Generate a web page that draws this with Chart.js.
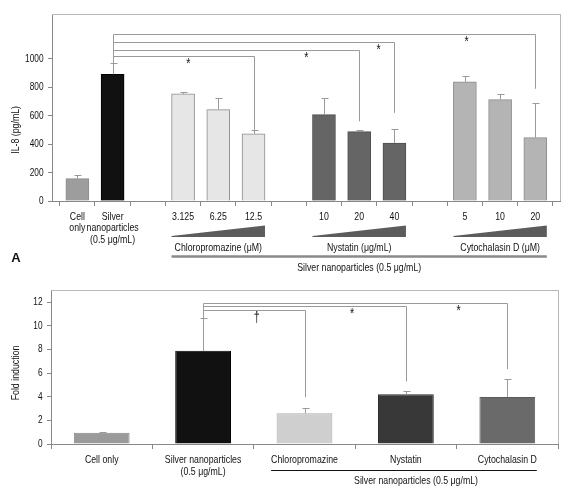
<!DOCTYPE html>
<html>
<head>
<meta charset="utf-8">
<script src="https://cdn.jsdelivr.net/npm/chart.js@4.4.1/dist/chart.umd.min.js"></script>
<style>
  body { margin: 0; background: #fff; }
  #wrap { position: relative; width: 576px; height: 493px; }
  .panel { position: absolute; left: 0; width: 576px; }
  #panelA { top: 0; height: 280px; }
  #panelB { top: 280px; height: 213px; }
</style>
</head>
<body>
<div id="wrap">
  <div class="panel" id="panelA"><canvas id="chartA"></canvas></div>
  <div class="panel" id="panelB"><canvas id="chartB"></canvas></div>
</div>
<script>
// panel A : IL-8 release
const catsA = [['Cell', 'only'], ['Silver', 'nanoparticles', '(0.5 μg/mL)'], '', '3.125', '6.25', '12.5', '', '10', '20', '40', '', '5', '10', '20'];
const il8 = [157, 891, null, 753, 643, 472, null, 607, 488, 408, null, 838, 713, 446];
const il8Err = [28, 80, null, 14, 82, 28, null, 118, 14, 101, null, 44, 40, 243];
const il8Ticks = [0, 200, 400, 600, 800, 1000];
const groupNamesA = ['Chloropromazine (μM)', 'Nystatin (μg/mL)', 'Cytochalasin D (μM)'];
const groupFirstA = [3, 7, 11];
const groupLastA = [5, 9, 13];
const sigToA = [5, 8, 9, 13];
const sigLevelA = [1018, 1065, 1119, 1171];
const sigEndA = [500, 560, 620, 789];
const sigMarkA = ['*', '*', '*', '*'];
const sigMarkAtA = [3.15, 6.5, 8.55, 11.05];

// panel B : fold induction
const catsB = ['Cell only', ['Silver nanoparticles', '(0.5 μg/mL)'], 'Chloropromazine', 'Nystatin', 'Cytochalasin D'];
const fold = [0.95, 7.88, 2.6, 4.2, 3.98];
const foldErr = [0.1, 2.77, 0.42, 0.29, 1.55];
const foldTicks = [0, 2, 4, 6, 8, 10, 12];
const sigToB = [2, 3, 4];
const sigLevelB = [11.33, 11.67, 11.92];
const sigEndB = [3.96, 5.28, 6.33];
const sigMarkB = ['†', '*', '*'];
const sigMarkAtB = [1.53, 2.47, 3.52];

// the original uses a condensed face; Liberation Sans squeezed stands in for it
const FONT = '"Liberation Sans", Arial, sans-serif';
const SQUEEZE = 0.77;
const INK = '#111';
const HIDDEN = 'rgba(0,0,0,0)';
Chart.defaults.font.family = FONT;

function crisp(v) { return Math.round(v) + 0.5; }
function line(ctx, x1, y1, x2, y2) {
  ctx.beginPath(); ctx.moveTo(x1, y1); ctx.lineTo(x2, y2); ctx.stroke();
}
function say(ctx, text, x, y, size, align, rotate) {
  ctx.save();
  ctx.translate(x, y);
  if (rotate) ctx.rotate(-Math.PI / 2);
  ctx.scale(SQUEEZE, 1);
  ctx.font = size + 'px ' + FONT;
  ctx.fillStyle = INK;
  ctx.textAlign = align || 'center';
  ctx.textBaseline = 'middle';
  ctx.fillText(text, 0, 0);
  ctx.restore();
}
function textWidth(ctx, text, size) {
  ctx.save();
  ctx.font = size + 'px ' + FONT;
  const w = ctx.measureText(text).width * SQUEEZE;
  ctx.restore();
  return w;
}

// tick labels are kept in the scales but drawn here, squeezed
function drawTickLabels(chart, firstLine) {
  const { ctx, scales: { x, y }, chartArea: { left, bottom } } = chart;
  x.ticks.forEach(t => {
    const lines = Array.isArray(t.label) ? t.label : [t.label];
    lines.forEach((s, k) => say(ctx, s, x.getPixelForValue(t.value), bottom + firstLine + k * 11.7, 11.4));
  });
  y.ticks.forEach(t => say(ctx, t.label, left - 8.5, y.getPixelForValue(t.value), 10.8, 'right'));
}

function drawErrors(chart, values, errs) {
  const { ctx, scales: { x, y } } = chart;
  ctx.save();
  ctx.strokeStyle = '#9a9a9a';
  ctx.lineWidth = 1;
  values.forEach((v, i) => {
    if (v === null) return;
    const px = crisp(x.getPixelForValue(i));
    const top = crisp(y.getPixelForValue(v + errs[i]));
    line(ctx, px, y.getPixelForValue(v), px, top);
    line(ctx, px - 3, top, px + 4, top);
  });
  ctx.restore();
}

function drawBrackets(chart, values, errs, to, level, end, marks, markAt) {
  const { ctx, scales: { x, y } } = chart;
  ctx.save();
  ctx.strokeStyle = '#9a9a9a';
  ctx.lineWidth = 1;
  const sx = crisp(x.getPixelForValue(1));
  line(ctx, sx, crisp(y.getPixelForValue(Math.max(...level))), sx, y.getPixelForValue(values[1] + errs[1]));
  to.forEach((t, k) => {
    const ly = crisp(y.getPixelForValue(level[k]));
    const tx = crisp(x.getPixelForValue(t));
    ctx.beginPath();
    ctx.moveTo(sx, ly); ctx.lineTo(tx, ly); ctx.lineTo(tx, y.getPixelForValue(end[k]));
    ctx.stroke();
    say(ctx, marks[k], x.getPixelForValue(markAt[k]), ly + 8, 14);
  });
  ctx.restore();
}

function drawFrame(chart) {
  const { ctx, chartArea: { left, right, top, bottom } } = chart;
  ctx.save();
  ctx.strokeStyle = '#b8b8b8';
  ctx.lineWidth = 1;
  line(ctx, left, crisp(top), crisp(right), crisp(top));
  line(ctx, crisp(right), top, crisp(right), bottom);
  ctx.restore();
}

function drawYTitle(chart, text, lo, hi) {
  const y = chart.scales.y;
  say(chart.ctx, text, 16, (y.getPixelForValue(lo) + y.getPixelForValue(hi)) / 2, 11.4, 'center', true);
}

function drawLetter(chart, letter, x, y) {
  const ctx = chart.ctx;
  ctx.save();
  ctx.font = 'bold 13px ' + FONT;
  ctx.fillStyle = '#111';
  ctx.textAlign = 'center';
  ctx.textBaseline = 'middle';
  ctx.fillText(letter, x, y);
  ctx.restore();
}

const annotA = {
  id: 'annotA',
  afterDraw(chart) {
    const { ctx, scales: { x }, chartArea: { bottom } } = chart;
    drawFrame(chart);
    drawErrors(chart, il8, il8Err);
    drawBrackets(chart, il8, il8Err, sigToA, sigLevelA, sigEndA, sigMarkA, sigMarkAtA);
    drawTickLabels(chart, 15.4);
    ctx.save();
    let lineL = Infinity, lineR = -Infinity;
    groupNamesA.forEach((name, g) => {
      const l = x.getPixelForValue(groupFirstA[g]) - 11.5;
      const r = x.getPixelForValue(groupLastA[g]) + 11.5;
      lineL = Math.min(lineL, l); lineR = Math.max(lineR, r);
      ctx.fillStyle = '#5c5c5c';
      ctx.beginPath();
      ctx.moveTo(l, bottom + 36); ctx.lineTo(l, bottom + 35); ctx.lineTo(r, bottom + 24.5); ctx.lineTo(r, bottom + 36);
      ctx.closePath(); ctx.fill();
      say(ctx, name, (l + r) / 2, bottom + 47, 11.4);
    });
    ctx.strokeStyle = '#8a8a8a';
    ctx.lineWidth = 2.5;
    line(ctx, lineL, bottom + 55.5, lineR, bottom + 55.5);
    say(ctx, 'Silver nanoparticles (0.5 μg/mL)', (lineL + lineR) / 2, bottom + 67, 11.4);
    ctx.restore();
    drawYTitle(chart, 'IL-8 (pg/mL)', 0, 1000);
    drawLetter(chart, 'A', 16, 258);
  }
};

const annotB = {
  id: 'annotB',
  afterDraw(chart) {
    const { ctx, scales: { x }, chartArea: { bottom } } = chart;
    drawFrame(chart);
    drawErrors(chart, fold, foldErr);
    drawBrackets(chart, fold, foldErr, sigToB, sigLevelB, sigEndB, sigMarkB, sigMarkAtB);
    drawTickLabels(chart, 16);
    const l = x.getPixelForValue(2) - textWidth(ctx, catsB[2], 11.4) / 2;
    const r = x.getPixelForValue(4) + textWidth(ctx, catsB[4], 11.4) / 2;
    ctx.save();
    ctx.strokeStyle = '#111';
    ctx.lineWidth = 1;
    line(ctx, l, crisp(bottom + 26), r, crisp(bottom + 26));
    ctx.restore();
    say(ctx, 'Silver nanoparticles (0.5 μg/mL)', x.getPixelForValue(3.1), bottom + 37, 11.4);
    drawYTitle(chart, 'Fold induction', 0, 12);
    drawLetter(chart, 'B', 20, 480);
  }
};

function fillA(i) {
  if (i === 0) return '#9d9d9d';
  if (i === 1) return '#111111';
  if (i <= groupLastA[0]) return '#e6e6e6';
  if (i <= groupLastA[1]) return '#656565';
  return '#b4b4b4';
}
function edgeA(i) {
  if (i === 1) return '#000000';
  if (i > groupLastA[0] && i <= groupLastA[1]) return '#4f4f4f';
  return '#8c8c8c';
}
const slotsA = il8.map((v, i) => i).filter(i => il8[i] !== null);

new Chart(document.getElementById('chartA'), {
  type: 'bar',
  data: {
    datasets: [{
      data: slotsA.map(i => ({ x: i, y: il8[i] })),
      backgroundColor: slotsA.map(fillA),
      borderColor: slotsA.map(edgeA),
      borderWidth: 1,
      barThickness: 23
    }]
  },
  options: {
    responsive: true,
    maintainAspectRatio: false,
    animation: false,
    layout: { padding: { top: 14, right: 16, left: 0, bottom: 0 } },
    plugins: { legend: { display: false }, tooltip: { enabled: false } },
    scales: {
      x: {
        type: 'linear', min: -0.72, max: 13.7, offset: false,
        afterBuildTicks: s => { s.ticks = catsA.map((c, i) => ({ value: i })); },
        afterFit: s => { s.height = 79; },
        grid: { drawOnChartArea: false, tickLength: 5, offset: true, color: '#888' },
        border: { color: '#888' },
        ticks: { autoSkip: false, maxRotation: 0, color: HIDDEN, callback: v => catsA[v] }
      },
      y: {
        min: 0, max: 1315,
        afterBuildTicks: s => { s.ticks = il8Ticks.map(v => ({ value: v })); },
        afterFit: s => { s.width = 52; },
        grid: { drawOnChartArea: false, tickLength: 4, color: '#888' },
        border: { color: '#888' },
        ticks: { color: HIDDEN, callback: v => String(v) }
      }
    }
  },
  plugins: [annotA]
});

new Chart(document.getElementById('chartB'), {
  type: 'bar',
  data: {
    labels: catsB,
    datasets: [{
      data: fold,
      backgroundColor: ['#9a9a9a', '#111111', '#cfcfcf', '#383838', '#6a6a6a'],
      borderColor: ['#858585', '#000000', '#a8a8a8', '#2a2a2a', '#5a5a5a'],
      borderWidth: 1,
      barPercentage: 0.55,
      categoryPercentage: 1
    }]
  },
  options: {
    responsive: true,
    maintainAspectRatio: false,
    animation: false,
    layout: { padding: { top: 10, right: 18, left: 0, bottom: 0 } },
    plugins: { legend: { display: false }, tooltip: { enabled: false } },
    scales: {
      x: {
        afterFit: s => { s.height = 49; },
        grid: { drawOnChartArea: false, tickLength: 5, offset: true, color: '#888' },
        border: { color: '#888' },
        ticks: { autoSkip: false, maxRotation: 0, color: HIDDEN }
      },
      y: {
        min: 0, max: 13,
        afterBuildTicks: s => { s.ticks = foldTicks.map(v => ({ value: v })); },
        afterFit: s => { s.width = 51; },
        grid: { drawOnChartArea: false, tickLength: 4, color: '#888' },
        border: { color: '#888' },
        ticks: { color: HIDDEN, callback: v => String(v) }
      }
    }
  },
  plugins: [annotB]
});
</script>
</body>
</html>
